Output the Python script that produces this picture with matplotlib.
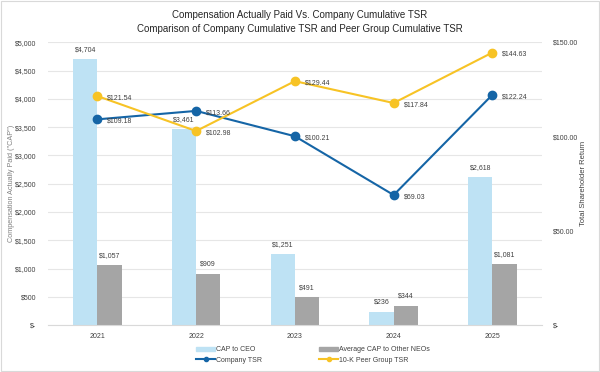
import matplotlib
matplotlib.use("Agg")
import matplotlib.pyplot as plt
import numpy as np
from matplotlib.lines import Line2D
from matplotlib.patches import Patch

years = ["2021", "2022", "2023", "2024", "2025"]
cap_ceo = [4704, 3461, 1251, 236, 2618]
cap_neo = [1057, 909, 491, 344, 1081]
company_tsr = [109.18, 113.66, 100.21, 69.03, 122.24]
peer_tsr = [121.54, 102.98, 129.44, 117.84, 144.63]

c_ceo = "#BEE2F4"
c_neo = "#A5A5A5"
c_comp = "#1565A6"
c_peer = "#F7C325"
tc = "#404040"

plt.rcParams['font.family'] = ['Liberation Sans', 'DejaVu Sans']

fig = plt.figure(figsize=(6.0, 3.72), dpi=100)
ax = fig.add_axes([0.08, 0.126, 0.823, 0.76])
ax2 = ax.twinx()

x = np.arange(len(years))
w = 0.245
ax.bar(x - w/2, cap_ceo, w, color=c_ceo, zorder=2)
ax.bar(x + w/2, cap_neo, w, color=c_neo, zorder=2)
for xi, v in zip(x, cap_ceo):
    ax.text(xi - w/2, v + 110, f"${v:,}", ha="center", va="bottom", fontsize=5, color=tc)
for xi, v in zip(x, cap_neo):
    ax.text(xi + w/2, v + 110, f"${v:,}", ha="center", va="bottom", fontsize=5, color=tc)

ax.set_ylim(0, 5000)
ax.set_xlim(-0.5, 4.5)
ax.set_yticks(np.arange(0, 5001, 500))
ax.set_yticklabels(["$-"] + [f"${v:,}" for v in range(500, 5001, 500)])
ax.set_xticks(x)
ax.set_xticklabels(years)
ax.grid(axis="y", color="#E6E6E6", linewidth=0.8, zorder=0)
ax.set_axisbelow(True)
ax.tick_params(axis="y", length=0, labelsize=5, colors=tc, pad=8.5)
ax.tick_params(axis="x", length=0, labelsize=5, colors=tc, pad=6)
for s in ["top", "left", "right"]:
    ax.spines[s].set_visible(False)
ax.spines["bottom"].set_color("#D9D9D9")
ax.set_ylabel('Compensation Actually Paid ("CAP")', fontsize=5.2, color="#808080")
ax.yaxis.set_label_coords(-0.067, 0.5)

ax2.plot(x, company_tsr, color=c_comp, lw=1.5, marker="o", ms=6, zorder=3)
ax2.plot(x, peer_tsr, color=c_peer, lw=1.5, marker="o", ms=6, zorder=3)
for xi, v in zip(x, company_tsr):
    ax2.text(xi + 0.1, v - 1.0, f"${v:.2f}", ha="left", va="center", fontsize=5, color=tc)
for xi, v in zip(x, peer_tsr):
    ax2.text(xi + 0.1, v - 1.0, f"${v:.2f}", ha="left", va="center", fontsize=5, color=tc)
ax2.set_ylim(0, 150)
ax2.set_yticks([0, 50, 100, 150])
ax2.set_yticklabels(["$-", "$50.00", "$100.00", "$150.00"])
ax2.tick_params(axis="y", length=0, labelsize=5, colors=tc, pad=8)
for s in ["top", "left", "right", "bottom"]:
    ax2.spines[s].set_visible(False)
ax2.set_ylabel("Total Shareholder Return", fontsize=5.5, color=tc, labelpad=1)

fig.text(0.5, 0.961, "Compensation Actually Paid Vs. Company Cumulative TSR", ha="center", va="center", fontsize=7, color="#262626")
fig.text(0.5, 0.921, "Comparison of Company Cumulative TSR and Peer Group Cumulative TSR", ha="center", va="center", fontsize=7, color="#262626")

handles = [Patch(color=c_ceo), Line2D([], [], color=c_comp, lw=1.5, marker="o", ms=3),
           Patch(color=c_neo), Line2D([], [], color=c_peer, lw=1.5, marker="o", ms=3)]
labels = ["CAP to CEO", "Company TSR", "Average CAP to Other NEOs", "10-K Peer Group TSR"]
fig.legend(handles, labels, loc="upper left", bbox_to_anchor=(0.327, 0.069), ncol=2, frameon=False,
           fontsize=5, labelcolor=tc, columnspacing=8.2, handlelength=2.7, handleheight=0.6,
           handletextpad=0.2, labelspacing=0.5, borderaxespad=0, borderpad=0)

fig.patches.append(matplotlib.patches.Rectangle((0.002, 0.003), 0.996, 0.994, transform=fig.transFigure,
                   fill=False, edgecolor="#D9D9D9", lw=0.8))

fig.savefig("out.png", dpi=100)
